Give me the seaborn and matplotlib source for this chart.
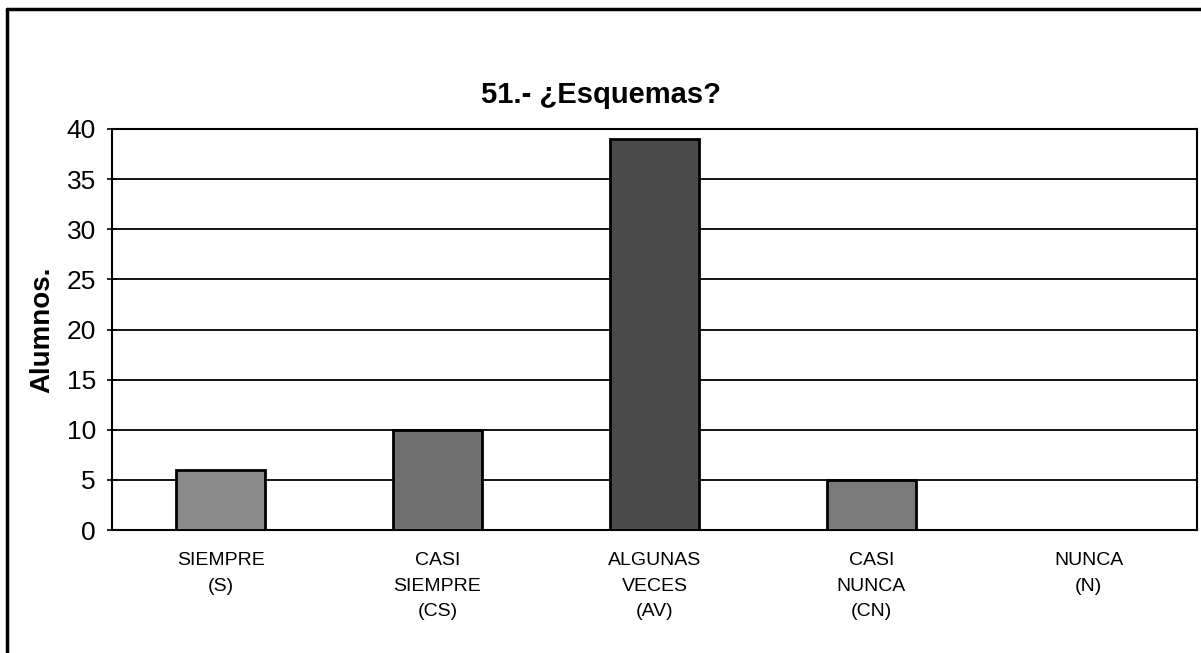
import matplotlib
matplotlib.use("Agg")
import matplotlib.pyplot as plt
import seaborn as sns
import pandas as pd
from matplotlib.lines import Line2D

categorias = ["SIEMPRE\n(S)", "CASI\nSIEMPRE\n(CS)", "ALGUNAS\nVECES\n(AV)",
              "CASI\nNUNCA\n(CN)", "NUNCA\n(N)"]
alumnos = [6, 10, 39, 5, 0]
colores = ["#8a8a8a", "#6e6e6e", "#4a4a4a", "#7a7a7a", "#8a8a8a"]

df = pd.DataFrame({"cat": categorias, "val": alumnos})

sns.set_theme(style="white")
plt.rcParams["font.family"] = ["Liberation Sans", "DejaVu Sans"]

W, H = 1201, 653
fig = plt.figure(figsize=(W / 100, H / 100), dpi=100)
# plot area: x 112..1197, y 129..530 (pixels)
ax = fig.add_axes([112 / W, (H - 530) / H, (1197 - 112) / W, (530 - 129) / H])

sns.barplot(data=df, x="cat", y="val", hue="cat", palette=colores, legend=False,
            width=0.41, edgecolor="black", linewidth=2, ax=ax, zorder=3)

ax.set_ylim(0, 40)
ax.set_yticks(range(0, 41, 5))
ax.yaxis.grid(True, color="black", linewidth=1.3)
ax.set_axisbelow(True)
ax.tick_params(axis="y", labelsize=19, length=7, width=1.2, color="black",
               direction="inout", left=True, pad=8)
ax.tick_params(axis="x", labelsize=14, pad=16, length=0)
for lbl in ax.get_yticklabels():
    lbl.set_color("black")
for lbl in ax.get_xticklabels():
    lbl.set_color("black")
    lbl.set_linespacing(1.65)

for s in ax.spines.values():
    s.set_color("black")
    s.set_linewidth(1.5)

ax.set_xlabel("")
ax.set_ylabel("Alumnos.", fontsize=20, fontweight="bold", color="black")
ax.yaxis.set_label_coords(-(112 - 55) / (1197 - 112), 0.5)
fig.text(0.5, (H - 95) / H, "51.- ¿Esquemas?", fontsize=21, fontweight="bold",
         color="black", ha="center", va="center")

# border of the chart area (left and top edges visible in the scan)
fig.add_artist(Line2D([7 / W, 7 / W], [0, (H - 9) / H], color="black", linewidth=2.5,
                      transform=fig.transFigure))
fig.add_artist(Line2D([7 / W, 1], [(H - 9) / H, (H - 9) / H], color="black", linewidth=2.5,
                      transform=fig.transFigure))

fig.savefig("out.png", dpi=100)
